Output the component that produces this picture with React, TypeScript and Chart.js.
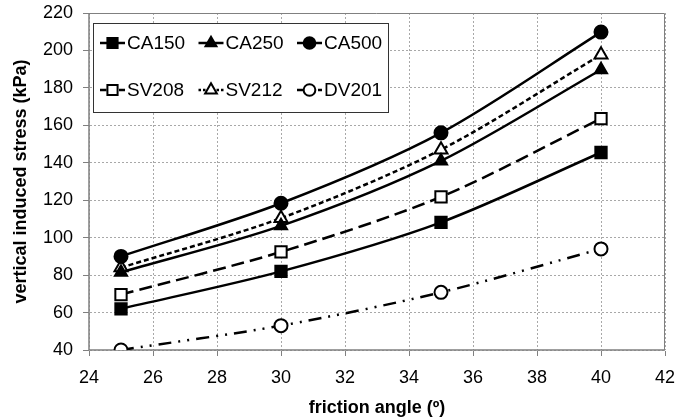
import { useEffect, useRef } from "react";
import { Chart, registerables } from "chart.js";

Chart.register(...registerables);

// ---- data ----
const frictionAngles = [25, 30, 35, 40];
const ca150 = [62, 82, 108.2, 145.5];
const ca250 = [81.5, 106.3, 141, 189.7];
const ca500 = [90, 118.4, 156, 209.8];
const sv208 = [69.6, 92.4, 121.8, 163.6];
const sv212 = [84, 110.4, 147, 197.7];
const dv201 = [40, 53, 70.8, 94];
const seriesNames = ["CA150", "CA250", "CA500", "SV208", "SV212", "DV201"];
const xTickRange = { min: 24, max: 42, step: 2 };
const yTickRange = { min: 40, max: 220, step: 20 };
const xTitle = "friction angle (º)";
const yTitle = "vertical induced stress (kPa)";

const FONT = "'Liberation Sans', Arial, sans-serif";

type Style = {
  point: "rect" | "triangle" | "circle";
  open: boolean;
  dash: number[];
  radius: number;
};
const styles: Style[] = [
  { point: "rect", open: false, dash: [], radius: 8 },
  { point: "triangle", open: false, dash: [], radius: 7 },
  { point: "circle", open: false, dash: [], radius: 6.5 },
  { point: "rect", open: true, dash: [13, 6], radius: 8 },
  { point: "triangle", open: true, dash: [5, 3], radius: 7.5 },
  { point: "circle", open: true, dash: [13, 7, 2, 7, 2, 7], radius: 6.5 },
];
const seriesValues = [ca150, ca250, ca500, sv208, sv212, dv201];

function drawMarker(ctx: CanvasRenderingContext2D, s: Style, x: number, y: number) {
  ctx.save();
  ctx.setLineDash([]);
  ctx.lineWidth = 2;
  ctx.strokeStyle = "#000";
  ctx.fillStyle = s.open ? "#fff" : "#000";
  ctx.beginPath();
  const r = s.radius;
  if (s.point === "rect") {
    const h = r / Math.SQRT2;
    ctx.rect(x - h, y - h, 2 * h, 2 * h);
  } else if (s.point === "circle") {
    ctx.arc(x, y, r, 0, Math.PI * 2);
  } else {
    const a = (r * 3) / Math.sqrt(3);
    const hh = (a * Math.sqrt(3)) / 2;
    ctx.moveTo(x - a / 2, y + hh / 3);
    ctx.lineTo(x + a / 2, y + hh / 3);
    ctx.lineTo(x, y - (2 * hh) / 3);
    ctx.closePath();
  }
  ctx.fill();
  ctx.stroke();
  ctx.restore();
}

const frameLegendPlugin = {
  id: "frameLegend",
  beforeDatasetsDraw(chart: any) {
    const { ctx, chartArea } = chart;
    const { left, right, top, bottom } = chartArea;
    ctx.save();
    ctx.setLineDash([]);
    ctx.strokeStyle = "#808080";
    ctx.lineWidth = 1;
    ctx.beginPath();
    ctx.moveTo(left, top + 0.5);
    ctx.lineTo(right - 0.5, top + 0.5);
    ctx.lineTo(right - 0.5, bottom);
    ctx.stroke();
    ctx.lineWidth = 1.5;
    ctx.beginPath();
    ctx.moveTo(left, top);
    ctx.lineTo(left, bottom);
    ctx.lineTo(right, bottom);
    ctx.stroke();
    ctx.restore();
  },
  afterDatasetsDraw(chart: any) {
    const { ctx, chartArea } = chart;
    const x0 = chartArea.left + 4;
    const y0 = chartArea.top + 10;
    const w = 295;
    const h = 89;
    ctx.save();
    ctx.fillStyle = "#fff";
    ctx.fillRect(x0, y0, w, h);
    ctx.strokeStyle = "#333";
    ctx.lineWidth = 1;
    ctx.strokeRect(x0 + 0.5, y0 + 0.5, w, h);
    seriesNames.forEach((name, i) => {
      const s = styles[i];
      const col = i % 3;
      const row = Math.floor(i / 3);
      const lx = x0 + 7 + col * 98.5;
      const ly = y0 + 20 + row * 47;
      ctx.setLineDash(s.dash.length ? s.dash.map((d) => Math.max(2, d * 0.5)) : []);
      ctx.lineWidth = 2.5;
      ctx.strokeStyle = "#000";
      ctx.beginPath();
      ctx.moveTo(lx, ly);
      ctx.lineTo(lx + 25, ly);
      ctx.stroke();
      ctx.setLineDash([]);
      drawMarker(ctx, { ...s, radius: s.radius * 0.9 }, lx + 12.5, ly);
      ctx.fillStyle = "#000";
      ctx.font = `19px ${FONT}`;
      ctx.textBaseline = "middle";
      ctx.textAlign = "left";
      ctx.fillText(name, lx + 27, ly + 1);
    });
    ctx.restore();
  },
};

export default function App() {
  const ref = useRef<HTMLCanvasElement | null>(null);
  useEffect(() => {
    if (!ref.current) return;
    const chart = new Chart(ref.current, {
      type: "line",
      data: {
        datasets: seriesNames.map((name, i) => ({
          label: name,
          data: frictionAngles.map((x, j) => ({ x, y: seriesValues[i][j] })),
          borderColor: "#000",
          backgroundColor: styles[i].open ? "#fff" : "#000",
          borderWidth: 2.5,
          borderDash: styles[i].dash,
          pointStyle: styles[i].point,
          pointRadius: styles[i].radius,
          pointBorderWidth: 2,
          pointBackgroundColor: styles[i].open ? "#fff" : "#000",
          pointBorderColor: "#000",
          tension: 0.3,
          fill: false,
        })),
      },
      options: {
        animation: false,
        responsive: false,
        layout: { padding: { top: 13, right: 10, left: 0, bottom: 0 } },
        plugins: { legend: { display: false }, tooltip: { enabled: false } },
        scales: {
          x: {
            type: "linear",
            min: xTickRange.min,
            max: xTickRange.max,
            ticks: { stepSize: xTickRange.step, color: "#000", font: { family: FONT, size: 18 }, padding: 11 },
            grid: { color: "#a8a8a8", tickLength: 6, tickColor: "#808080", lineWidth: 1, tickBorderDash: [] },
            border: { display: true, color: "rgba(0,0,0,0)", width: 1, dash: [2, 2] },
            title: { display: true, text: xTitle, color: "#000", font: { family: FONT, size: 18, weight: "bold" }, padding: { top: 8, bottom: 0 } },
            afterFit: (s: any) => {
              s.height = 69;
              s.paddingLeft = 0;
              s.paddingRight = 0;
            },
          },
          y: {
            min: yTickRange.min,
            max: yTickRange.max,
            ticks: { stepSize: yTickRange.step, color: "#000", font: { family: FONT, size: 18 }, padding: 10 },
            grid: { color: "#a8a8a8", tickLength: 6, tickColor: "#808080", lineWidth: 1, tickBorderDash: [] },
            border: { display: true, color: "rgba(0,0,0,0)", width: 1, dash: [2, 2] },
            title: { display: true, text: yTitle, color: "#000", font: { family: FONT, size: 18, weight: "bold" }, padding: { top: 10, bottom: 0 } },
            afterFit: (s: any) => {
              s.width = 89;
              s.paddingTop = 0;
              s.paddingBottom = 0;
            },
          },
        },
      },
      plugins: [frameLegendPlugin],
    });
    return () => chart.destroy();
  }, []);
  return (
    <div style={{ position: "absolute", left: 0, top: 0, width: 675, height: 419, background: "#fff" }}>
      <canvas ref={ref} width={675} height={419} style={{ width: 675, height: 419 }} />
    </div>
  );
}
